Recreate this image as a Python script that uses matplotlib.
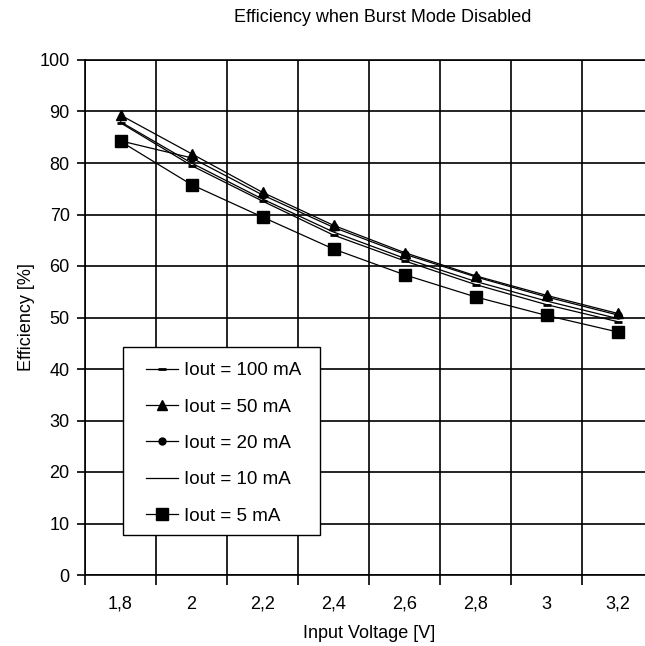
import matplotlib
matplotlib.use("Agg")
import matplotlib.pyplot as plt
from matplotlib.patches import Rectangle
import numpy as np

plt.rcParams["font.family"] = ["Liberation Sans", "DejaVu Sans"]

voltages = ["1,8", "2", "2,2", "2,4", "2,6", "2,8", "3", "3,2"]
eff_100mA = [87.8, 79.5, 72.6, 66.0, 61.0, 56.4, 52.5, 49.2]
eff_50mA = [89.3, 81.8, 74.3, 67.9, 62.6, 58.1, 54.3, 50.8]
eff_20mA = [84.3, 81.0, 73.8, 67.5, 62.3, 57.9, 54.0, 50.5]
eff_10mA = [88.0, 80.0, 73.0, 66.6, 61.5, 57.0, 53.2, 49.8]
eff_5mA = [84.2, 75.8, 69.5, 63.3, 58.3, 54.0, 50.4, 47.2]

W, H = 645, 646
# plot area in pixels (right edge runs past the image, as in the original)
L, R, T, B = 85, 653, 60, 575
fig = plt.figure(figsize=(W / 100, H / 100), dpi=100)
ax = fig.add_axes([L / W, (H - B) / H, (R - L) / W, (B - T) / H])


def axfrac(px, py):
    return (px - L) / (R - L), (B - py) / (B - T)


x = np.arange(len(voltages))
series = [
    ("Iout = 100 mA", eff_100mA, dict(marker="_", markersize=6, markeredgewidth=2)),
    ("Iout = 50 mA", eff_50mA, dict(marker="^", markersize=7)),
    ("Iout = 20 mA", eff_20mA, dict(marker="o", markersize=5)),
    ("Iout = 10 mA", eff_10mA, dict(marker="None")),
    ("Iout = 5 mA", eff_5mA, dict(marker="s", markersize=8)),
]
for label, vals, style in series:
    ax.plot(x, vals, color="black", linewidth=0.9, label=label,
            markerfacecolor="black", markeredgecolor="black", **style)

ax.set_xlim(-0.5, len(voltages) - 0.5)
ax.set_ylim(0, 100)
ax.set_xticks(x)
ax.set_xticklabels(voltages)
ax.set_xticks(np.arange(-0.5, len(voltages), 1.0), minor=True)
ax.set_yticks(np.arange(0, 101, 10))
ax.tick_params(axis="x", which="major", length=0, pad=15, labelsize=13)
ax.tick_params(axis="x", which="minor", length=7, width=1.2, direction="out")
ax.tick_params(axis="y", length=6, width=1.2, direction="out", pad=5, labelsize=13)

ax.grid(True, which="minor", axis="x", color="black", linewidth=1.2)
ax.grid(True, which="major", axis="y", color="black", linewidth=1.2)
ax.set_axisbelow(True)
for sp in ax.spines.values():
    sp.set_linewidth(1.2)

ax.set_xlabel("Input Voltage [V]", fontsize=13, labelpad=9)
ax.set_ylabel("Efficiency [%]", fontsize=13, labelpad=3)
fig.text(383 / W, 1 - 17 / H, "Efficiency when Burst Mode Disabled",
         ha="center", va="center", fontsize=13)

# legend box drawn separately so its padding matches the original
bx0, by0 = axfrac(123, 535)
bx1, by1 = axfrac(320, 347)
ax.add_patch(Rectangle((bx0, by0), bx1 - bx0, by1 - by0, transform=ax.transAxes,
                       facecolor="white", edgecolor="black", linewidth=1.0, zorder=4))
leg = ax.legend(loc="upper left", bbox_to_anchor=axfrac(146, 362),
                frameon=False, fontsize=13.5, labelspacing=1.03, handlelength=1.7,
                handletextpad=0.33, borderpad=0, borderaxespad=0)
leg.set_zorder(5)

fig.savefig("out.png", dpi=100)
